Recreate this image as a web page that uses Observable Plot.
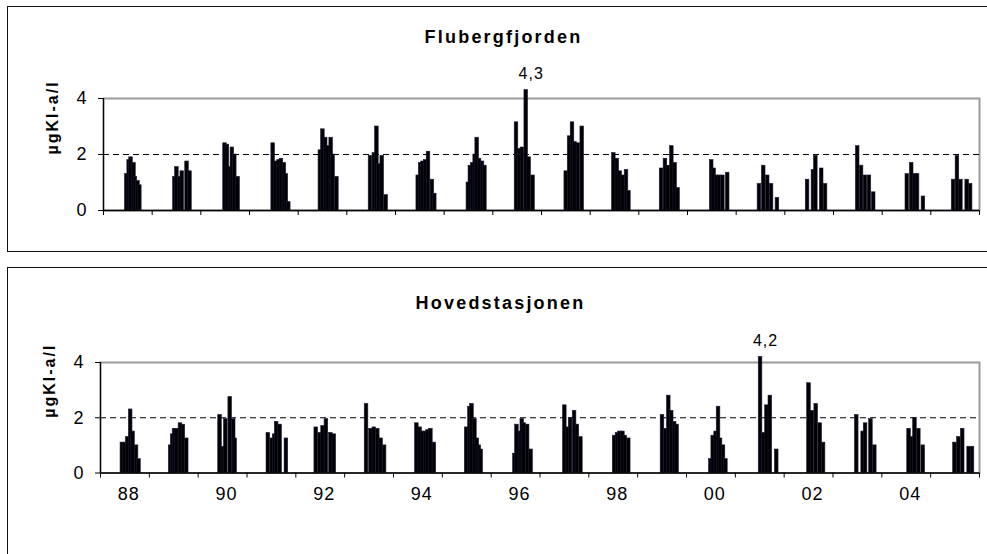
<!DOCTYPE html>
<html><head><meta charset="utf-8">
<script src="https://cdn.jsdelivr.net/npm/d3@7"></script>
<script src="https://cdn.jsdelivr.net/npm/@observablehq/plot@0.6"></script>
<style>
html,body{margin:0;padding:0;background:#fff;overflow:hidden;width:987px;height:554px;}
#wrap{position:relative;width:987px;height:554px;overflow:hidden;font-family:"Liberation Sans",Arial,sans-serif;}
.box{position:absolute;border:1px solid #111;left:7px;width:1000px;}
#box1{top:6px;height:244px;}
#box2{top:267px;height:400px;}
.panel{position:absolute;left:0;}
#p1{top:0}
#p2{top:260px}
</style></head>
<body><div id="wrap"><div class="box" id="box1"></div><div class="box" id="box2"></div><div class="panel" id="p1"></div><div class="panel" id="p2"></div></div>
<script>
// Sampling years
const years = [1988,1989,1990,1991,1992,1993,1994,1995,1996,1997,1998,1999,2000,2001,2002,2003,2004,2005];
// x-axis labels (two-digit years)
const labelYears = [1988,1990,1992,1994,1996,1998,2000,2002,2004];
const yTicks = [0,2,4];
const refLevel = 2;
const unitLabel = "µgKl-a/l";

// Flubergfjorden: sampling day-of-year and chlorophyll a (µg/l)
const flubDays = [
  [161,179,193,215,226,245,259],
  [157,172,193,212,248,270],
  [168,186,208,223,241,266],
  [164,186,208,226,248,263,281],
  [153,172,193,212,234,248,277],
  [164,193,212,226,252,281],
  [157,175,193,212,234,263,281],
  [168,183,201,219,234,252,274,292],
  [164,186,208,237,259,288],
  [172,197,219,237,263,292],
  [164,190,212,234,259,277],
  [157,186,208,234,259,281],
  [168,186,208,226,252,288],
  [161,193,223,252,296],
  [157,201,219,263,292],
  [168,197,226,256,288],
  [175,208,234,252,296],
  [157,186,212,259,285]
];
const flubValues = [
  [1.3,1.8,1.9,1.7,1.2,1.05,0.9],
  [1.2,1.55,1.2,1.4,1.75,1.4],
  [2.4,2.35,1.55,2.25,2.0,1.2],
  [2.4,1.75,1.8,1.85,1.7,1.3,0.3],
  [2.15,2.9,2.6,2.3,2.6,2.0,1.2],
  [1.95,2.05,3.0,1.65,1.95,0.55],
  [1.25,1.7,1.75,1.8,2.1,1.1,0.6],
  [1.0,1.6,1.7,2.0,2.6,1.85,1.75,1.6],
  [3.15,2.2,2.25,4.3,1.9,1.25],
  [1.4,2.65,3.15,2.45,2.4,3.0],
  [2.05,1.85,1.4,1.25,1.45,0.7],
  [1.5,1.85,1.6,2.3,1.7,0.8],
  [1.8,1.5,1.25,1.25,1.25,1.35],
  [0.95,1.6,1.25,0.95,0.45],
  [1.1,1.45,1.95,1.5,0.95],
  [2.3,1.6,1.25,1.25,0.65],
  [1.3,1.7,1.3,1.3,0.5],
  [1.1,1.95,1.1,1.1,0.95]
];

// Hovedstasjonen
const hovDays = [
  [150,168,190,212,230,256,274],
  [146,161,175,193,219,241,266],
  [150,175,193,226,252,263],
  [146,175,193,208,234,281],
  [139,168,190,215,248,274],
  [150,183,208,234,259,285],
  [161,186,204,226,245,266,292],
  [168,193,208,230,248,263,277],
  [164,179,204,219,234,259,285],
  [172,197,215,245,266,292],
  [179,201,219,241,259,285],
  [172,197,219,241,263,281],
  [168,186,208,226,241,263,281],
  [175,201,223,248,296],
  [172,197,226,256,281],
  [164,212,230,270,299],
  [190,215,234,263,296],
  [168,197,226,274,299]
];
const hovValues = [
  [1.1,1.1,1.3,2.3,1.5,1.0,0.5],
  [1.0,1.4,1.6,1.6,1.8,1.75,1.25],
  [2.1,0.95,1.95,2.75,1.95,1.25],
  [1.45,1.25,1.4,1.85,1.75,1.25],
  [1.65,1.45,1.7,1.95,1.45,1.4],
  [2.5,1.6,1.65,1.6,1.25,1.0],
  [1.8,1.65,1.5,1.5,1.55,1.6,1.1],
  [1.65,2.4,2.5,1.95,1.25,1.0,0.85],
  [0.7,1.75,1.5,1.95,1.8,1.75,0.85],
  [2.45,1.65,2.0,2.25,1.75,1.3],
  [1.35,1.45,1.5,1.5,1.35,1.25],
  [2.1,1.6,2.8,2.25,1.85,1.75],
  [0.5,1.35,1.5,2.4,1.25,1.0,0.5],
  [4.2,1.45,2.45,2.8,0.85],
  [3.25,2.25,2.5,1.8,1.1],
  [2.1,1.5,1.8,1.95,1.0],
  [1.6,1.3,2.0,1.6,1.0],
  [1.1,1.3,1.6,0.95,0.95]
];

const FONT = '"Liberation Sans", Arial, sans-serif';

function panel({title, values, days, height, marginTop, marginBottom, marginLeft, showLabels, titleX, titleY}) {
  const rows = [];
  years.forEach((yr, i) => values[i].forEach((v, j) => rows.push({year: yr, day: days[i][j], value: v})));
  const t = d => d.year + d.day / 365;
  const barW = 27 / 365;
  const yearTicks = years.concat([years[years.length - 1] + 1]);
  const marks = [
    Plot.frame({stroke: "#9c9c9c", strokeWidth: 2}),
    Plot.ruleY([refLevel], {stroke: "#000", strokeDasharray: "6,4", strokeWidth: 1}),
    Plot.rectY(rows, {x1: t, x2: d => t(d) + barW, y1: 0, y2: "value", fill: "#000", stroke: "#1c1c40", strokeWidth: 0.6}),
    Plot.ruleY([0], {stroke: "#000", strokeWidth: 1.5}),
    Plot.ruleX([years[0]], {stroke: "#000", strokeWidth: 1.2}),
    Plot.axisY({ticks: yTicks, tickSize: 5, tickPadding: 11, fontSize: 18, label: null, tickFormat: d => String(d)}),
    Plot.axisX({ticks: yearTicks, tickSize: 5, label: null, tickFormat: () => ""}),
    Plot.text(rows.filter(d => d.value > 4), {x: d => t(d) + barW / 2, y: "value", text: d => String(d.value).replace(".", ","), lineAnchor: "bottom", dy: -11, dx: 5, fontSize: 16}),
    Plot.text([title], {text: d => d, frameAnchor: "top-left", dx: titleX - marginLeft, dy: titleY - marginTop, textAnchor: "middle", fontWeight: "bold", fontSize: 18}),
    Plot.text([unitLabel], {text: d => d, frameAnchor: "left", dx: -51, rotate: -90, fontWeight: "bold", fontSize: 16})
  ];
  if (showLabels) {
    marks.push(Plot.axisX({ticks: labelYears.map(y => y + 0.58), tickSize: 0, tickPadding: 14, fontSize: 18, label: null,
      tickFormat: d => String(Math.floor(d)).slice(2)}));
  }
  const svg = Plot.plot({
    width: 987, height, marginLeft, marginRight: 8, marginTop, marginBottom,
    style: {fontFamily: FONT, color: "#000", background: "transparent"},
    x: {domain: [years[0], years[years.length - 1] + 1], label: null},
    y: {domain: [0, 4], label: null},
    marks
  });
  d3.select(svg).selectAll("text").each(function() {
    const s = this.textContent;
    if (s === title) d3.select(this).attr("letter-spacing", "2.2px");
    else if (s === unitLabel) d3.select(this).attr("letter-spacing", "2px");
    else d3.select(this).attr("letter-spacing", "1px");
  });
  return svg;
}

document.getElementById("p1").appendChild(panel({
  title: "Flubergfjorden", values: flubValues, days: flubDays,
  height: 260, marginTop: 98, marginBottom: 50, marginLeft: 103, showLabels: false, titleX: 503, titleY: 29.5
}));
document.getElementById("p2").appendChild(panel({
  title: "Hovedstasjonen", values: hovValues, days: hovDays,
  height: 294, marginTop: 102, marginBottom: 81.5, marginLeft: 100, showLabels: true, titleX: 500, titleY: 36
}));
</script>
</body></html>
